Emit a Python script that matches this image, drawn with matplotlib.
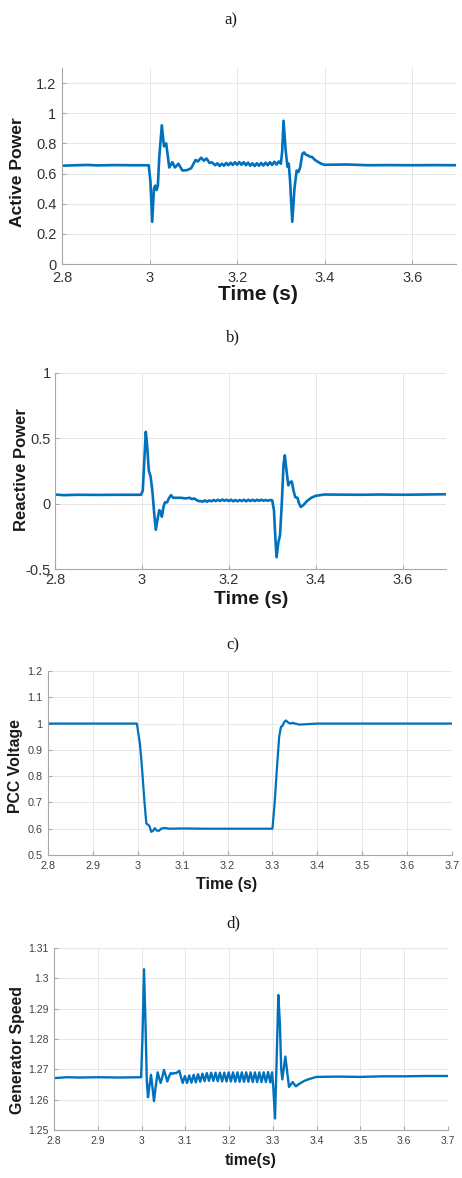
import matplotlib
matplotlib.use("Agg")
import matplotlib.pyplot as plt

# ---------------------------------------------------------------------------
# DATA

# a) Active power
a_t = [2.80, 2.83, 2.86, 2.88, 2.92, 2.96, 2.998, 3.002, 3.006, 3.010, 3.013,
       3.016, 3.019, 3.022, 3.028, 3.033, 3.038, 3.045, 3.052, 3.058, 3.066,
       3.075, 3.085, 3.095, 3.105, 3.110, 3.118, 3.124, 3.130, 3.137, 3.142,
       3.150, 3.155, 3.160, 3.165, 3.170, 3.175, 3.180, 3.185, 3.190, 3.195,
       3.200, 3.205, 3.210, 3.215, 3.220, 3.225, 3.230, 3.235, 3.240, 3.245,
       3.250, 3.255, 3.260, 3.265, 3.270, 3.275, 3.280, 3.285, 3.290, 3.295,
       3.300, 3.303, 3.306, 3.311, 3.315, 3.318, 3.321, 3.326, 3.331, 3.336,
       3.340, 3.344, 3.349, 3.353, 3.357, 3.362, 3.366, 3.371, 3.378, 3.385,
       3.392, 3.40, 3.45, 3.50, 3.55, 3.60, 3.65, 3.70]
a_p = [0.652, 0.655, 0.657, 0.654, 0.656, 0.655, 0.655, 0.55, 0.28, 0.50, 0.52,
       0.49, 0.52, 0.70, 0.92, 0.78, 0.80, 0.64, 0.675, 0.64, 0.665,
       0.62, 0.622, 0.635, 0.69, 0.68, 0.705, 0.685, 0.70, 0.67, 0.675,
       0.655, 0.668, 0.650, 0.665, 0.652, 0.670, 0.655, 0.672, 0.657, 0.675,
       0.658, 0.676, 0.658, 0.675, 0.655, 0.672, 0.652, 0.668, 0.650, 0.668,
       0.652, 0.670, 0.653, 0.672, 0.655, 0.675, 0.657, 0.678, 0.660, 0.680,
       0.665, 0.75, 0.95, 0.75, 0.645, 0.665, 0.55, 0.28, 0.50, 0.62,
       0.61, 0.64, 0.73, 0.74, 0.725, 0.72, 0.712, 0.71, 0.69, 0.677,
       0.665, 0.658, 0.660, 0.655, 0.656, 0.655, 0.656, 0.655]

# b) Reactive power
b_t = [2.80, 2.82, 2.85, 2.90, 2.95, 2.998, 3.002, 3.009, 3.012, 3.016, 3.020,
       3.024, 3.029, 3.032, 3.036, 3.040, 3.043, 3.046, 3.050, 3.053, 3.058,
       3.062, 3.067, 3.072, 3.080, 3.090, 3.100, 3.110, 3.115, 3.120, 3.125,
       3.130, 3.135, 3.140, 3.145, 3.150, 3.155, 3.160, 3.165, 3.170, 3.175,
       3.180, 3.185, 3.190, 3.195, 3.200, 3.205, 3.210, 3.215, 3.220, 3.225,
       3.230, 3.235, 3.240, 3.245, 3.250, 3.255, 3.260, 3.265, 3.270, 3.275,
       3.280, 3.285, 3.290, 3.295, 3.300, 3.304, 3.307, 3.310, 3.314, 3.318,
       3.322, 3.326, 3.329, 3.333, 3.337, 3.341, 3.345, 3.349, 3.353, 3.358,
       3.362, 3.366, 3.372, 3.380, 3.390, 3.400, 3.420, 3.500, 3.550, 3.600,
       3.650, 3.700]
b_q = [0.070, 0.065, 0.068, 0.067, 0.068, 0.068, 0.10, 0.55, 0.45, 0.25, 0.21,
       0.10, -0.10, -0.20, -0.12, -0.05, -0.06, -0.10, -0.02, 0.01, 0.01,
       0.04, 0.065, 0.045, 0.045, 0.045, 0.040, 0.045, 0.035, 0.040, 0.030,
       0.020, 0.020, 0.015, 0.025, 0.015, 0.025, 0.018, 0.028, 0.020, 0.030,
       0.020, 0.032, 0.022, 0.030, 0.020, 0.030, 0.018, 0.028, 0.018, 0.028,
       0.020, 0.030, 0.018, 0.030, 0.020, 0.030, 0.020, 0.030, 0.022, 0.030,
       0.022, 0.028, 0.022, 0.028, 0.025, -0.05, -0.25, -0.41, -0.30, -0.24,
       0.00, 0.30, 0.37, 0.25, 0.14, 0.165, 0.17, 0.10, 0.05, 0.045,
       0.00, -0.025, -0.01, 0.02, 0.045, 0.060, 0.070, 0.068, 0.070, 0.068,
       0.070, 0.072]

# c) PCC voltage
c_t = [2.80, 2.90, 2.998, 3.005, 3.009, 3.015, 3.019, 3.023, 3.026, 3.030,
       3.034, 3.038, 3.042, 3.047, 3.052, 3.060, 3.070, 3.100, 3.150, 3.200,
       3.250, 3.300, 3.305, 3.310, 3.315, 3.319, 3.322, 3.326, 3.330, 3.334,
       3.340, 3.345, 3.350, 3.360, 3.370, 3.400, 3.500, 3.600, 3.700]
c_v = [1.000, 1.000, 1.000, 0.92, 0.84, 0.70, 0.62, 0.615, 0.61, 0.588,
       0.592, 0.602, 0.593, 0.592, 0.600, 0.603, 0.600, 0.601, 0.600, 0.600,
       0.600, 0.600, 0.70, 0.83, 0.95, 0.988, 0.990, 1.005, 1.012, 1.005,
       1.000, 1.003, 1.000, 0.996, 0.997, 1.000, 1.000, 1.000, 1.000]

# d) Generator speed
d_t = [2.80, 2.83, 2.86, 2.90, 2.95, 2.999, 3.002, 3.0056, 3.009, 3.012,
       3.0147, 3.018, 3.0215, 3.025, 3.0284, 3.032, 3.0368, 3.0405, 3.0436,
       3.0475, 3.0513, 3.055, 3.0589, 3.0625, 3.0665, 3.0705, 3.0741, 3.078,
       3.0817, 3.0863, 3.090, 3.094,
       3.099, 3.104, 3.109, 3.114, 3.119, 3.124, 3.129, 3.134, 3.139, 3.144,
       3.149, 3.154, 3.159, 3.164, 3.169, 3.174, 3.179, 3.184, 3.189, 3.194,
       3.199, 3.204, 3.209, 3.214, 3.219, 3.224, 3.229, 3.234, 3.239, 3.244,
       3.249, 3.254, 3.259, 3.264, 3.269, 3.274, 3.279, 3.284, 3.289, 3.294,
       3.298, 3.301, 3.3048, 3.308, 3.3124, 3.316, 3.319, 3.3216, 3.325,
       3.3284, 3.332, 3.3368, 3.341, 3.3452, 3.349, 3.3528, 3.358, 3.3658,
       3.372, 3.381, 3.392, 3.40, 3.45, 3.50, 3.55, 3.60, 3.65, 3.70]
d_w = [1.2671, 1.2674, 1.2673, 1.2674, 1.2673, 1.2674, 1.2800, 1.3030, 1.2850,
       1.2660, 1.2608, 1.2645, 1.2682, 1.2640, 1.2595, 1.2640, 1.2690, 1.2670,
       1.2655, 1.2675, 1.2698, 1.2680, 1.2660, 1.2675, 1.2688, 1.2685, 1.2688,
       1.2687, 1.2690, 1.2695, 1.2675, 1.2655,
       1.2678, 1.2655, 1.2680, 1.2656, 1.2682, 1.2657, 1.2684, 1.2659, 1.2686,
       1.2661, 1.2688, 1.2662, 1.2689, 1.2662, 1.2689, 1.2661, 1.2689, 1.2660,
       1.2689, 1.2660, 1.2690, 1.2660, 1.2690, 1.2659, 1.2690, 1.2659, 1.2690,
       1.2659, 1.2690, 1.2659, 1.2690, 1.2658, 1.2690, 1.2658, 1.2690, 1.2658,
       1.2690, 1.2658, 1.2691, 1.2657,
       1.2690, 1.2640, 1.2538, 1.2700, 1.2945, 1.2850, 1.2700, 1.2667, 1.2705,
       1.2742, 1.2700, 1.2642, 1.2650, 1.2658, 1.2650, 1.2644, 1.2650, 1.2657,
       1.2662, 1.2667, 1.2672, 1.2675, 1.2676, 1.2675, 1.2677, 1.2677, 1.2678,
       1.2678]

# tick labels
a_xticks = [2.8, 3.0, 3.2, 3.4, 3.6]
a_xlabels = ["2.8", "3", "3.2", "3.4", "3.6"]
a_yticks = [0, 0.2, 0.4, 0.6, 0.8, 1.0, 1.2]
a_ylabels = ["0", "0.2", "0.4", "0.6", "0.8", "1", "1.2"]
b_yticks = [-0.5, 0, 0.5, 1]
b_ylabels = ["-0.5", "0", "0.5", "1"]
cd_xticks = [2.8, 2.9, 3.0, 3.1, 3.2, 3.3, 3.4, 3.5, 3.6, 3.7]
cd_xlabels = ["2.8", "2.9", "3", "3.1", "3.2", "3.3", "3.4", "3.5", "3.6", "3.7"]
c_yticks = [0.5, 0.6, 0.7, 0.8, 0.9, 1.0, 1.1, 1.2]
c_ylabels = ["0.5", "0.6", "0.7", "0.8", "0.9", "1", "1.1", "1.2"]
d_yticks = [1.25, 1.26, 1.27, 1.28, 1.29, 1.30, 1.31]
d_ylabels = ["1.25", "1.26", "1.27", "1.28", "1.29", "1.3", "1.31"]

# ---------------------------------------------------------------------------
# FIGURE

W, H = 462, 1178
BLUE = "#0072BD"
SANS = "Liberation Sans"
SERIF = "Liberation Serif"

fig = plt.figure(figsize=(W / 100, H / 100), dpi=100)


def px_axes(left, top, right, bottom):
    # axes from pixel box of the reference
    return fig.add_axes([left / W, 1 - bottom / H, (right - left) / W, (bottom - top) / H])


def style(ax, xt, xl, yt, yl, xlim, ylim, tick_fs, tick_col, xpad, ypad):
    ax.set_xlim(*xlim)
    ax.set_ylim(*ylim)
    ax.set_xticks(xt)
    ax.set_xticklabels(xl, fontfamily=SANS, fontsize=tick_fs, color=tick_col)
    ax.set_yticks(yt)
    ax.set_yticklabels(yl, fontfamily=SANS, fontsize=tick_fs, color=tick_col)
    ax.grid(True, color="#e6e6e6", lw=0.7)
    ax.set_axisbelow(True)
    for s in ("top", "right"):
        ax.spines[s].set_visible(False)
    for s in ("left", "bottom"):
        ax.spines[s].set_color("#a8a8a8")
        ax.spines[s].set_linewidth(0.8)
    ax.tick_params(direction="in", length=3, color="#a8a8a8")
    ax.tick_params(axis="x", pad=xpad)
    ax.tick_params(axis="y", pad=ypad)


def label(x, y, s, size, rot=0, family=SANS, weight="bold"):
    fig.text(x / W, 1 - y / H, s, fontsize=size, fontfamily=family,
             fontweight=weight, rotation=rot, ha="center", va="center",
             color="#1a1a1a")


# a)
ax = px_axes(62, 68, 456, 264)
ax.plot(a_t, a_p, color=BLUE, lw=1.9, solid_joinstyle="round")
style(ax, a_xticks, a_xlabels, a_yticks, a_ylabels, (2.8, 3.7), (0, 1.3),
      10.5, "#333333", 5, 4)
label(231, 20, "a)", 12, family=SERIF, weight="normal")
label(18, 172, "Active Power", 12.6, rot=90)
label(258, 295, "Time (s)", 15)

# b)
ax = px_axes(55, 373, 446, 569)
ax.plot(b_t, b_q, color=BLUE, lw=1.9, solid_joinstyle="round")
style(ax, a_xticks, a_xlabels, b_yticks, b_ylabels, (2.8, 3.7), (-0.5, 1),
      10.5, "#333333", 3, 3)
label(233, 337, "b)", 12, family=SERIF, weight="normal")
label(22, 470, "Reactive Power", 12, rot=90)
label(251, 599, "Time (s)", 14)

# c)
ax = px_axes(48, 671, 452, 855)
ax.plot(c_t, c_v, color=BLUE, lw=1.6, solid_joinstyle="round")
style(ax, cd_xticks, cd_xlabels, c_yticks, c_ylabels, (2.8, 3.7), (0.5, 1.2),
      7.8, "#404040", 4, 4)
label(233, 645, "c)", 12, family=SERIF, weight="normal")
label(16, 766, "PCC Voltage", 11.4, rot=90)
label(227, 885, "Time (s)", 11.6)

# d)
ax = px_axes(54, 948, 448, 1130)
ax.plot(d_t, d_w, color=BLUE, lw=1.7, solid_joinstyle="round")
style(ax, cd_xticks, cd_xlabels, d_yticks, d_ylabels, (2.8, 3.7), (1.25, 1.31),
      7.5, "#404040", 4, 4)
label(233, 923, "d)", 12, family=SERIF, weight="normal")
label(18, 1050, "Generator Speed", 11.4, rot=90)
label(251, 1160, "time(s)", 11.4)

fig.savefig("out.png", dpi=100)
